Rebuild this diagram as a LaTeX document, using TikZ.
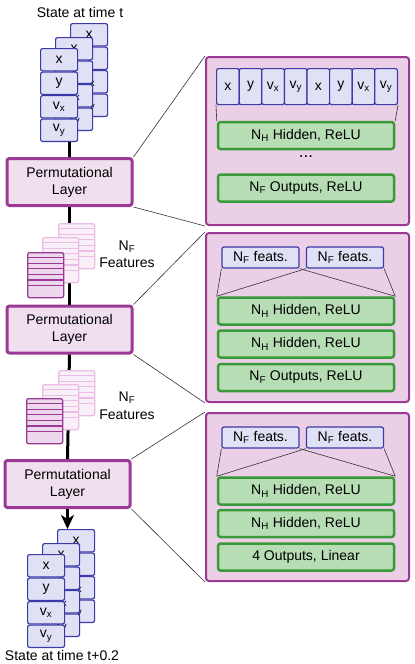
\documentclass[tikz,border=0pt]{standalone}
\usepackage{fontspec}
\setmainfont{Liberation Sans}
\usetikzlibrary{arrows.meta}
\definecolor{cellfill}{HTML}{E1E1F5}
\definecolor{celldraw}{HTML}{3B3BA8}
\definecolor{purp}{HTML}{9A3A94}
\definecolor{boxfill}{HTML}{F0E0EF}
\definecolor{panelfill}{HTML}{EACFE7}
\definecolor{gfill}{HTML}{B7DDB5}
\definecolor{gdraw}{HTML}{3A9A3A}
\definecolor{featfill}{HTML}{EDD7EC}
\definecolor{lightdraw}{HTML}{EBBDE6}
\definecolor{lightfill}{HTML}{F8EFF7}
\tikzset{
  txt/.style={font=\fontsize{14}{17}\selectfont},
  cell/.style={draw=celldraw, fill=cellfill, line width=1.2pt, rounded corners=2pt,
    minimum width=37pt, minimum height=22.3pt, inner sep=0pt, txt},
  incell/.style={cell, minimum width=22.6pt, minimum height=36pt, anchor=north west},
  featbox/.style={cell, minimum width=77pt, minimum height=21pt},
  perm/.style={draw=purp, fill=boxfill, line width=3pt, rounded corners=2.5pt,
    minimum width=125pt, minimum height=47pt, align=center, inner sep=0pt, txt},
  panel/.style={draw=purp, fill=panelfill, line width=2pt, rounded corners=3pt,
    minimum width=203pt, inner sep=0pt, anchor=north west},
  gbox/.style={draw=gdraw, fill=gfill, line width=2.5pt, rounded corners=2.5pt,
    minimum width=176pt, minimum height=27pt, inner sep=0pt, txt},
  conn/.style={draw=black!80, line width=0.6pt},
  vline/.style={draw=black, line width=3pt},
  lbl/.style={txt, inner sep=0pt, align=center},
}
\newcommand\statestack[3]{%
  \node[cell, anchor=north west] (#1a) at (#2,#3) {x};
  \node[cell, anchor=north] (#1b) at (#1a.south) {y};
  \node[cell, anchor=north] (#1c) at (#1b.south) {v\textsubscript{x}};
  \node[cell, anchor=north] (#1d) at (#1c.south) {v\textsubscript{y}};
}
\newcommand\featstack[5]{%
  \node[draw=#4, fill=#5, line width=1.3pt, rounded corners=2pt, minimum width=36pt,
    minimum height=45pt, anchor=north west, inner sep=0pt] (#1) at (#2,#3) {};
  \foreach \k in {1,...,6}
    \draw[#4, line width=1.3pt] ([yshift=-\k*5.6pt]#1.north west) -- ([yshift=-\k*5.6pt]#1.north east);
}
\begin{document}
\begin{tikzpicture}[x=1pt, y=-1pt]
\useasboundingbox (0,0) rectangle (415,664);

% permutational layers
\node[perm] (p1) at (69.5,182) {Permutational\\Layer};
\node[perm] (p2) at (69.5,329.5) {Permutational\\Layer};
\node[perm] (p3) at (67.5,484) {Permutational\\Layer};

% vertical spine
\draw[vline] (p1.north) -- ++(0,-60);
\draw[vline] (p1.south) -- (p2.north);
\draw[vline] (p2.south) -- (p3.north);
\coordinate (arrtip) at ([yshift=-20pt]p3.south);
\draw[vline, -{Stealth[length=14pt, width=13pt, inset=4pt]}] (p3.south) -- (arrtip);

% top state stacks
\node[lbl] (tlabel) at (80,12) {State at time t};
\statestack{sa}{70}{23}
\statestack{sb}{55}{37}
\statestack{sc}{40}{48}

% feature stacks 1
\featstack{fa1}{58}{223}{lightdraw}{lightfill}
\featstack{fb1}{42}{237}{lightdraw}{lightfill}
\featstack{fc1}{27}{252}{purp}{featfill}
\node[lbl] (nf1) at (127,247) {N\textsubscript{F}};
\node[lbl] (ft1) at (127,263) {Features};

% feature stacks 2
\featstack{fa2}{58}{370}{lightdraw}{lightfill}
\featstack{fb2}{42}{384}{lightdraw}{lightfill}
\featstack{fc2}{26}{398}{purp}{featfill}
\node[lbl] (nf2) at (127,398) {N\textsubscript{F}};
\node[lbl] (ft2) at (127,415) {Features};

% bottom state stacks
\statestack{ta}{57}{529}
\statestack{tb}{42}{543}
\statestack{tc}{27}{554}
\node[lbl] (blabel) at (62,655) {State at time t+0.2};

% panel 1
\node[panel, minimum height=168pt] (pan1) at (205,56) {};
\node[incell] (i1) at (216,68) {x};
\node[incell] (i2) at (238.6,68) {y};
\node[incell] (i3) at (261.2,68) {v\textsubscript{x}};
\node[incell] (i4) at (283.8,68) {v\textsubscript{y}};
\node[incell] (i5) at (306.4,68) {x};
\node[incell] (i6) at (329,68) {y};
\node[incell] (i7) at (351.6,68) {v\textsubscript{x}};
\node[incell] (i8) at (374.2,68) {v\textsubscript{y}};
\node[gbox] (g11) at (306,135.5) {N\textsubscript{H} Hidden, ReLU};
\node[lbl, font=\fontsize{17}{17}\selectfont] (dots) at (306,157) {...};
\node[gbox] (g12) at (306,188) {N\textsubscript{F} Outputs, ReLU};
\draw[conn] (i1.south west) -- (g11.north west);
\draw[conn] (i8.south east) -- (g11.north east);

% panel 2
\node[panel, minimum height=169pt] (pan2) at (205,232) {};
\node[featbox] (f21) at (260.5,257.5) {N\textsubscript{F} feats.};
\node[featbox] (f22) at (345,257.5) {N\textsubscript{F} feats.};
\node[gbox] (g21) at (306,311) {N\textsubscript{H} Hidden, ReLU};
\node[gbox] (g22) at (306,344) {N\textsubscript{H} Hidden, ReLU};
\node[gbox] (g23) at (306,377.5) {N\textsubscript{F} Outputs, ReLU};
\draw[conn] (f21.south west) -- (g21.north west);
\draw[conn] (f21.south east) -- (g21.north east);
\draw[conn] (f22.south west) -- (g21.north west);
\draw[conn] (f22.south east) -- (g21.north east);

% panel 3
\node[panel, minimum height=168pt] (pan3) at (205,412) {};
\node[featbox] (f31) at (260.5,437.5) {N\textsubscript{F} feats.};
\node[featbox] (f32) at (345,437.5) {N\textsubscript{F} feats.};
\node[gbox] (g31) at (306,491) {N\textsubscript{H} Hidden, ReLU};
\node[gbox] (g32) at (306,523.5) {N\textsubscript{H} Hidden, ReLU};
\node[gbox] (g33) at (306,557) {4 Outputs, Linear};
\draw[conn] (f31.south west) -- (g31.north west);
\draw[conn] (f31.south east) -- (g31.north east);
\draw[conn] (f32.south west) -- (g31.north west);
\draw[conn] (f32.south east) -- (g31.north east);

% connectors layer -> panel
\draw[conn] (p1.north east) -- (pan1.north west);
\draw[conn] (p1.south east) -- (pan1.south west);
\draw[conn] (p2.north east) -- (pan2.north west);
\draw[conn] (p2.south east) -- (pan2.south west);
\draw[conn] (p3.north east) -- (pan3.north west);
\draw[conn] (p3.south east) -- (pan3.south west);
\end{tikzpicture}
\end{document}
